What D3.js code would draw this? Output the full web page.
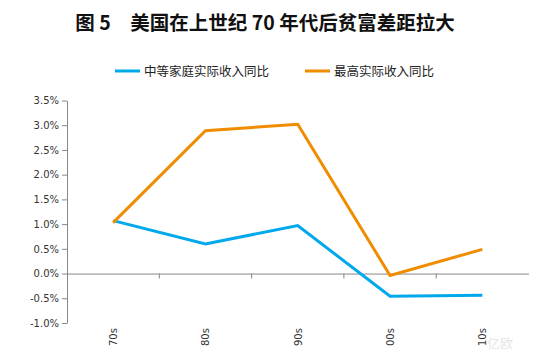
<!DOCTYPE html>
<html><head><meta charset="utf-8">
<script src="https://cdn.jsdelivr.net/npm/d3@7/dist/d3.min.js"></script>
<style>body{margin:0;background:#fff;}svg{display:block;}</style>
</head><body>
<svg id="c" width="537" height="354"></svg>
<script>
const categories = ["70s","80s","90s","00s","10s"];
const seriesNames = ["中等家庭实际收入同比","最高实际收入同比"];
const middleValues = [1.07, 0.60, 0.97, -0.46, -0.44];
const topValues = [1.03, 2.89, 3.02, -0.04, 0.49];
const yTicks = [-1.0,-0.5,0,0.5,1.0,1.5,2.0,2.5,3.0,3.5];
const colors = ["#00A8EC","#F08C00"];

const svg = d3.select("#c");
const font = "'Microsoft YaHei','Noto Sans CJK SC',sans-serif";
const x = d3.scaleBand().domain(categories).range([67,528.5]);
const y = d3.scaleLinear().domain([-1,3.5]).range([323,100.5]);

svg.append("text").attr("x",265).attr("y",30).attr("text-anchor","middle")
  .attr("font-family",font).attr("font-weight","bold").attr("font-size",19.5).attr("fill","#111")
  .text("图 5　美国在上世纪 70 年代后贫富差距拉大");

// y axis
const ya = svg.append("g").attr("transform","translate(67,0)")
  .call(d3.axisLeft(y).tickValues(yTicks).tickSize(5).tickSizeOuter(0).tickFormat(d=>d.toFixed(1)+"%"));
ya.select(".domain").attr("stroke","#888");
ya.selectAll("line").attr("stroke","#888");
ya.selectAll("text").attr("font-family","Verdana,'DejaVu Sans',sans-serif").attr("font-size",10).attr("fill","#333").attr("x",-8);

// x axis at 0
const xa = svg.append("g").attr("transform",`translate(0,${y(0)})`)
  .call(d3.axisBottom(x).tickSize(5).tickSizeOuter(0).tickFormat(""));
xa.select(".domain").attr("stroke","#888");
xa.selectAll(".tick line").attr("stroke","#888").attr("transform",`translate(${x.bandwidth()/2},0)`);
xa.selectAll(".tick").filter((d,i)=>i===categories.length-1).select("line").remove();

// x labels rotated
svg.append("g").selectAll("text").data(categories).join("text")
  .attr("transform",d=>`translate(${x(d)+x.bandwidth()/2+4},346) rotate(-90)`)
  .attr("font-family","Verdana,'DejaVu Sans',sans-serif").attr("font-size",10).attr("fill","#333")
  .text(d=>d);

const line = d3.line().x((d,i)=>x(categories[i])+x.bandwidth()/2).y(d=>y(d));
[middleValues, topValues].forEach((vals,k)=>{
  svg.append("path").datum(vals).attr("d",line).attr("fill","none")
    .attr("stroke",colors[k]).attr("stroke-width",3);
});

// legend
const lg = [{x:115,tx:144},{x:305,tx:334}];
seriesNames.forEach((n,k)=>{
  svg.append("line").attr("x1",lg[k].x).attr("x2",lg[k].x+25).attr("y1",71).attr("y2",71)
    .attr("stroke",colors[k]).attr("stroke-width",3);
  svg.append("text").attr("x",lg[k].tx).attr("y",75.5).attr("font-family",font)
    .attr("font-size",12.5).attr("fill","#222").text(n);
});

// watermark
svg.append("text").attr("x",487).attr("y",348).attr("font-family",font).attr("font-size",13)
  .attr("fill","#e6e6e6").text("亿欧");
</script>
</body></html>
